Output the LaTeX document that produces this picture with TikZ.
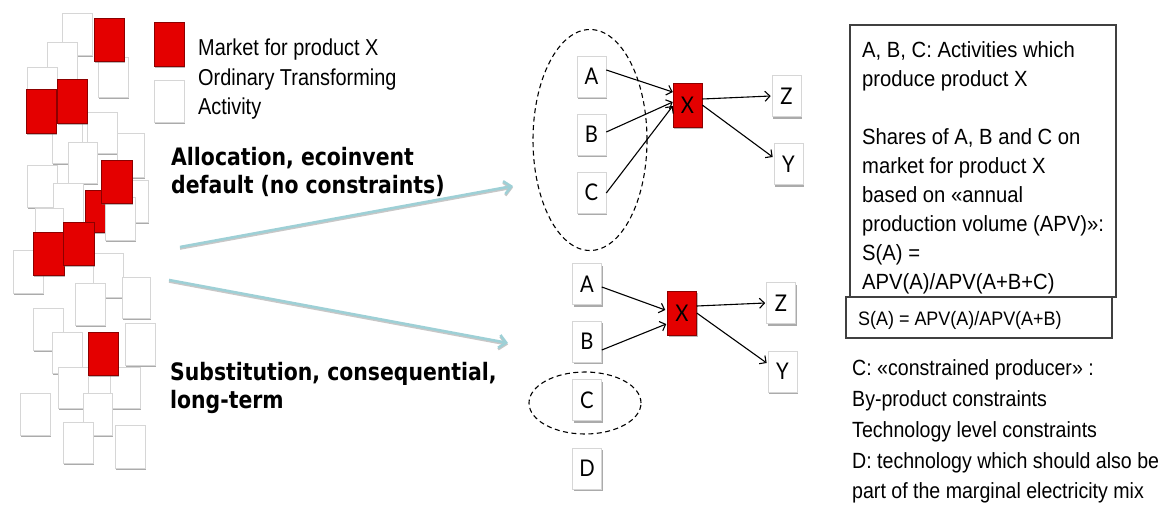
\documentclass[tikz,border=0pt]{standalone}
\usepackage{fontspec}
\setmainfont{Liberation Sans}
\newfontfamily\boxfont[FakeStretch=0.92]{Liberation Sans}
\newfontfamily\lowfont[FakeStretch=0.89]{Liberation Sans}
\newfontfamily\legfont[FakeStretch=0.865]{Liberation Sans}
\newfontfamily\vfont[FakeStretch=0.85]{DejaVu Sans Bold}
\newfontfamily\lfont[FakeStretch=0.88]{Lato}
\usetikzlibrary{arrows.meta,shadows,shapes.geometric}
\definecolor{mred}{RGB}{228,0,0}
\definecolor{tealline}{RGB}{158,208,214}
\begin{document}
\begin{tikzpicture}[x=1pt,y=-1pt,
  wbox/.style={fill=white,draw=black!16,line width=0.6pt,
    drop shadow={shadow xshift=1.4pt,shadow yshift=-2pt,opacity=0.55,fill=black!60}},
  rbox/.style={fill=mred,draw=red!55!black,line width=0.5pt,
    drop shadow={shadow xshift=1.4pt,shadow yshift=-2pt,opacity=0.45,fill=black!60}},
  act/.style={wbox,minimum width=29pt,minimum height=41pt,inner sep=0pt,
    font=\lfont\fontsize{23}{24}\selectfont},
  mkt/.style={rbox,minimum width=29pt,minimum height=44pt,inner sep=0pt,
    font=\lfont\fontsize{23}{24}\selectfont},
  arr/.style={line width=1.1pt,-{Straight Barb[length=5pt,width=10pt,line width=1.1pt]}},
  bigarr/.style={draw=tealline,line width=2.6pt,
    -{Straight Barb[length=7pt,width=13pt,line width=2.6pt]},
    preaction={draw=black!22,line width=2.6pt,transform canvas={yshift=-1.5pt}}},
  dashell/.style={draw,dashed,dash pattern=on 5pt off 3.5pt,line width=1.1pt,ellipse,inner sep=0pt},
  frame/.style={draw=black!75,line width=1.1pt,inner sep=0pt},
  txt/.style={anchor=base west,inner sep=0pt},
  btxt/.style={txt,font=\boxfont\fontsize{22}{29}\selectfont},
  dtxt/.style={txt,font=\lowfont\fontsize{22}{29}\selectfont},
  ltxt/.style={txt,font=\legfont\fontsize{23}{29}\selectfont},
  vtxt/.style={txt,font=\vfont\fontsize{24}{28}\selectfont},
  ]
\useasboundingbox (0,0) rectangle (1173,509);

% ---- left cluster of activities ----
\path[wbox] (118,180) rectangle (148,222);
\path[rbox] (85,190) rectangle (115,232);
\foreach \a/\b/\c/\d in {62/13/92/55, 47/42/77/83, 98/57/128/97, 27/67/57/107,
  87/112/117/153, 52/122/82/163, 117/133/144/177, 68/142/97/183, 27/165/57/207,
  53/183/83/227, 105/197/135/240, 35/208/63/250, 13/250/43/293, 93/253/123/297,
  122/277/150/318, 75/283/105/325, 33/308/63/350, 125/323/155/365, 52/332/82/373,
  58/367/88/408, 110/367/140/408, 83/393/112/435, 20/393/50/435, 63/422/93/463,
  115/425/145/468}
  \path[wbox] (\a,\b) rectangle (\c,\d);
\foreach \a/\b/\c/\d in {94/18/124/61, 26/89/56/133, 57/79/87/123, 101/160/132/203,
  33/232/64/275, 63/222/94/265, 88/332/118/375}
  \path[rbox] (\a,\b) rectangle (\c,\d);

% ---- legend ----
\path[rbox] (154,22) rectangle (184,66);
\path[wbox] (154,80) rectangle (184,122);
\node[ltxt] (leg1) at (198,55) {Market for product X};
\node[ltxt] (leg2) at (198,85) {Ordinary Transforming};
\node[ltxt] (leg3) at (198,114) {Activity};

% ---- method labels ----
\node[vtxt] (al1) at (171,165) {Allocation, ecoinvent};
\node[vtxt] (al2) at (171,193) {default (no constraints)};
\node[vtxt] (su1) at (170,380) {Substitution, consequential,};
\node[vtxt] (su2) at (170,408) {long-term};

\coordinate (s1) at (180,247);
\coordinate (e1) at (513,186);
\coordinate (s2) at (169,280);
\coordinate (e2) at (508,343);
\draw[bigarr] (s1) -- (e1);
\draw[bigarr] (s2) -- (e2);

% ---- top graph ----
\node[dashell,minimum width=114pt,minimum height=221pt] (ell1) at (590,140) {};
\node[act] (A) at (591.5,76.5) {A};
\node[act] (B) at (591.5,134.5) {B};
\node[act] (C) at (591.5,192.5) {C};
\node[mkt] (X) at (687.5,105) {X};
\node[act] (Z) at (786.5,96) {Z};
\node[act] (Y) at (788.5,164) {Y};
\draw[arr] ([yshift=6.5pt]A.east) -- ([yshift=13pt]X.west);
\draw[arr] ([yshift=2.5pt]B.east) -- ([yshift=3pt]X.west);
\draw[arr] ([yshift=-0.5pt]C.east) -- ([yshift=-1pt]X.west);
\draw[arr] ([yshift=6pt]X.east) -- ([xshift=-1pt]Z.west);
\draw[arr] (X.east) -- ([xshift=-1pt,yshift=7pt]Y.west);

% ---- bottom graph ----
\node[act] (A2) at (587,284) {A};
\node[act] (B2) at (587,341.5) {B};
\node[act] (C2) at (587,400) {C};
\node[act] (D2) at (587,468.5) {D};
\node[dashell,minimum width=112pt,minimum height=62pt] (ell2) at (585,403) {};
\node[mkt] (X2) at (682,313) {X};
\node[act] (Z2) at (781,303) {Z};
\node[act] (Y2) at (782.5,371.5) {Y};
\draw[arr] ([yshift=-3pt]A2.east) -- ([xshift=-2pt,yshift=3pt]X2.west);
\draw[arr] ([yshift=-8.5pt]B2.east) -- ([xshift=-1pt,yshift=-11pt]X2.west);
\draw[arr] ([yshift=7pt]X2.east) -- ([xshift=-1pt]Z2.west);
\draw[arr] (X2.east) -- ([xshift=-1pt,yshift=8.5pt]Y2.west);

% ---- right text boxes ----
\node[frame,minimum width=266pt,minimum height=272pt] (box1) at (983,161) {};
\node[frame,minimum width=266pt,minimum height=41pt] (box2) at (979,317.5) {};
\node[btxt] (r1) at (862,57) {A, B, C: Activities which};
\node[btxt] (r2) at (862,86) {produce product X};
\node[btxt] (r3) at (862,144) {Shares of A, B and C on};
\node[btxt] (r4) at (862,173) {market for product X};
\node[btxt] (r5) at (862,202) {based on «annual};
\node[btxt] (r6) at (862,231) {production volume (APV)»:};
\node[btxt] (r7) at (862,260) {S(A) =};
\node[btxt] (r8) at (862,289) {APV(A)/APV(A+B+C)};
\node[txt,font=\boxfont\fontsize{19.5}{22}\selectfont] (r9) at (858,325) {S(A) = APV(A)/APV(A+B)};
\node[dtxt] (c1) at (852,375) {C: «constrained producer» :};
\node[dtxt] (c2) at (852,406) {By-product constraints};
\node[dtxt] (c3) at (852,437) {Technology level constraints};
\node[dtxt] (c4) at (852,468) {D: technology which should also be};
\node[dtxt] (c5) at (852,498) {part of the marginal electricity mix};
\end{tikzpicture}
\end{document}
